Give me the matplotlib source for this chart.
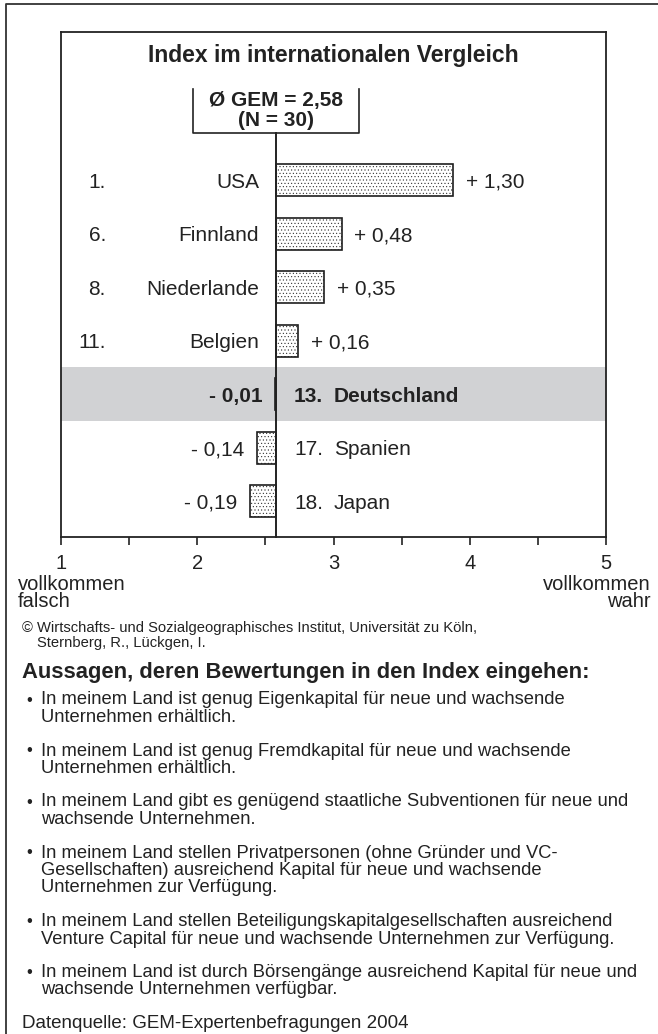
import matplotlib
matplotlib.use('Agg')
import numpy as np
import matplotlib.pyplot as plt
from matplotlib.lines import Line2D
from matplotlib.ticker import MultipleLocator

plt.rcParams['font.family'] = ['Liberation Sans', 'DejaVu Sans']
plt.rcParams['hatch.linewidth'] = 0.35

# --- data -------------------------------------------------------------
ranks = ['1.', '6.', '8.', '11.', '13.', '17.', '18.']
countries = ['USA', 'Finnland', 'Niederlande', 'Belgien', 'Deutschland', 'Spanien', 'Japan']
deltas = [1.30, 0.48, 0.35, 0.16, -0.01, -0.14, -0.19]
gem_mean = 2.58
n_obs = 30
highlight = 'Deutschland'
xticks = [1, 2, 3, 4, 5]
scale_left = 'vollkommen\nfalsch'
scale_right = 'vollkommen\nwahr'

title = 'Index im internationalen Vergleich'
credit = ['© Wirtschafts- und Sozialgeographisches Institut, Universität zu Köln,',
          'Sternberg, R., Lückgen, I.']
list_head = 'Aussagen, deren Bewertungen in den Index eingehen:'
statements = [
    'In meinem Land ist genug Eigenkapital für neue und wachsende\nUnternehmen erhältlich.',
    'In meinem Land ist genug Fremdkapital für neue und wachsende\nUnternehmen erhältlich.',
    'In meinem Land gibt es genügend staatliche Subventionen für neue und\nwachsende Unternehmen.',
    'In meinem Land stellen Privatpersonen (ohne Gründer und VC-\nGesellschaften) ausreichend Kapital für neue und wachsende\nUnternehmen zur Verfügung.',
    'In meinem Land stellen Beteiligungskapitalgesellschaften ausreichend\nVenture Capital für neue und wachsende Unternehmen zur Verfügung.',
    'In meinem Land ist durch Börsengänge ausreichend Kapital für neue und\nwachsende Unternehmen verfügbar.',
]
source = 'Datenquelle: GEM-Expertenbefragungen 2004'


def de_num(v, signed=True):
    s = f'{abs(v):.2f}'.replace('.', ',')
    if not signed:
        return s
    return ('+ ' if v > 0 else '- ') + s


W, H = 658, 1034
fig = plt.figure(figsize=(W / 100, H / 100), dpi=100)
fx = lambda px: px / W
fy = lambda py: 1 - py / H
dark = '#222222'

# outer frame, only top and left edge visible
fig.add_artist(Line2D([fx(6), fx(6), 1.0], [0.0, fy(4), fy(4)], color='#333333', lw=1.3))

ax = fig.add_axes([fx(61), fy(537), fx(606) - fx(61), fy(32) - fy(537)])
n = len(countries)
ypos = np.arange(n)
ax.set_xlim(1, 5)
ax.set_ylim(n - 0.33, -2.77)

for s in ax.spines.values():
    s.set_color(dark)
    s.set_linewidth(1.3)
ax.set_yticks([])
ax.set_xticks(xticks)
ax.set_xticklabels([str(t) for t in xticks])
ax.xaxis.set_minor_locator(MultipleLocator(0.5))
ax.tick_params(axis='x', which='both', direction='out', length=6, width=1.2,
               color=dark, labelsize=14.5, pad=6, labelcolor=dark)

hi = countries.index(highlight)
ax.axhspan(hi - 0.5, hi + 0.5, color='#d1d2d4', lw=0, zorder=0)

ax.barh(ypos, deltas, left=gem_mean, height=0.6, color='white', edgecolor='#1e1e1e',
        hatch='.....', linewidth=1.2, zorder=2)

# mean line with box
box_half = 0.61
box_top, box_bot = -1.70, -0.88
ax.plot([gem_mean, gem_mean], [box_bot, n - 0.33], color=dark, lw=1.4, zorder=3, clip_on=False)
ax.plot([gem_mean - box_half, gem_mean - box_half, gem_mean + box_half, gem_mean + box_half],
        [box_top, box_bot, box_bot, box_top], color=dark, lw=1.2, zorder=3)
ax.text(gem_mean, -1.52, f'Ø GEM = {de_num(gem_mean, False)}', ha='center', va='center_baseline',
        fontsize=15, fontweight='bold', color=dark)
ax.text(gem_mean, -1.15, f'(N = {n_obs})', ha='center', va='center_baseline',
        fontsize=15, fontweight='bold', color=dark)

ax.text(0.5, 0.958, title, transform=ax.transAxes, ha='center', va='center_baseline',
        fontsize=16.5, fontweight='bold', color=dark)

off = 0.093
for y, r, c, d in zip(ypos, ranks, countries, deltas):
    fw = 'bold' if c == highlight else 'normal'
    end = gem_mean + d
    kw = dict(va='center_baseline', fontsize=15, color=dark, fontweight=fw)
    if d > 0:
        ax.text(1.33, y, r, ha='right', **kw)
        ax.text(gem_mean - 0.127, y, c, ha='right', **kw)
        ax.text(end + off, y, de_num(d), ha='left', **kw)
    else:
        ax.text(gem_mean + 0.13, y, r, ha='left', **kw)
        ax.text(gem_mean + 0.424, y, c, ha='left', **kw)
        ax.text(end - off, y, de_num(d), ha='right', **kw)

# scale ends
for i, (l, r) in enumerate(zip(scale_left.split('\n'), scale_right.split('\n'))):
    fig.text(fx(18), fy(590 + 17 * i), l, ha='left', va='baseline', fontsize=14.5, color=dark)
    fig.text(fx(651), fy(590 + 17 * i), r, ha='right', va='baseline', fontsize=14.5, color=dark)

# credit
fig.text(fx(22), fy(632), credit[0], ha='left', va='baseline', fontsize=10.6, color=dark)
fig.text(fx(37), fy(647), credit[1], ha='left', va='baseline', fontsize=10.6, color=dark)

fig.text(fx(22), fy(678), list_head, ha='left', va='baseline', fontsize=15.8,
         fontweight='bold', color=dark)

yc = 698
step = 17.5
for st in statements:
    lines = st.split('\n')
    fig.text(fx(26), fy(yc + 6.5), '•', ha='left', va='baseline', fontsize=12, color=dark)
    for k, line in enumerate(lines):
        fig.text(fx(41), fy(yc + 6.5 + k * step), line, ha='left', va='baseline',
                 fontsize=13.2, color=dark)
    yc += len(lines) * step + 16

fig.text(fx(22), fy(yc + 6.5), source, ha='left', va='baseline', fontsize=13.5, color=dark)

fig.savefig('out.png', dpi=100)
